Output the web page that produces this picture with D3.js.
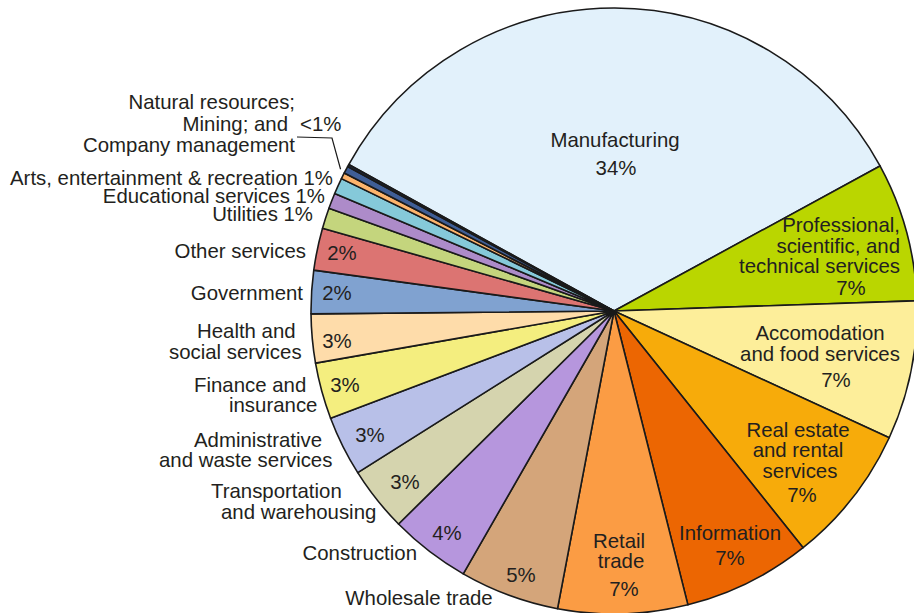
<!DOCTYPE html>
<html>
<head>
<meta charset="utf-8">
<script src="https://cdn.jsdelivr.net/npm/d3@7"></script>
<style>
  html, body { margin: 0; padding: 0; background: #fff; }
  svg { display: block; }
  text { font-family: "Liberation Sans", Arial, Helvetica, sans-serif; font-size: 20.4px; fill: #231f20; }
</style>
</head>
<body>
<svg id="chart" width="914" height="613"></svg>
<script>
// Industry shares (percent), in clockwise order starting with Manufacturing
const categories = [
  "Manufacturing",
  "Professional, scientific, and technical services",
  "Accomodation and food services",
  "Real estate and rental services",
  "Information",
  "Retail trade",
  "Wholesale trade",
  "Construction",
  "Transportation and warehousing",
  "Administrative and waste services",
  "Finance and insurance",
  "Health and social services",
  "Government",
  "Other services",
  "Utilities",
  "Educational services",
  "Arts, entertainment & recreation",
  "Natural resources",
  "Mining",
  "Company management"
];
const shares = [34.0, 7.4, 7.4, 7.4, 6.8, 6.9, 5.3, 4.3, 3.45, 3.2, 3.0, 2.6, 2.3, 2.25, 1.1, 0.83, 0.86, 0.33, 0.38, 0.12];
const colors = [
  "#e2f1fb", "#bad600", "#fdee9a", "#f7ab0a", "#ec6602", "#fb9c44", "#d4a57a",
  "#b696dd", "#d5d4ae", "#b8c0e8", "#f4ee7f", "#fedcaa", "#80a2d0", "#dc7472",
  "#c4d57d", "#ad8bc9", "#85c9d9", "#fdb46c", "#3f5e96", "#1b2a44"
];

// Displayed wording of each label, broken into lines
const nameLines = [
  ["Manufacturing"],
  ["Professional,", "scientific, and", "technical services"],
  ["Accomodation", "and food services"],
  ["Real estate", "and rental", "services"],
  ["Information"],
  ["Retail", "trade"],
  ["Wholesale trade"],
  ["Construction"],
  ["Transportation", "and warehousing"],
  ["Administrative", "and waste services"],
  ["Finance and", "insurance"],
  ["Health and", "social services"],
  ["Government"],
  ["Other services"],
  ["Utilities"],
  ["Educational services"],
  ["Arts, entertainment & recreation"]
];
const smallGroupLines = ["Natural resources;", "Mining; and", "Company management"];

const pctText = v => Math.round(v) + "%";
// the three thinnest slices share one label; each is below one percent
const groupPctText = vals => (d3.max(vals) < 1 ? "<1%" : pctText(d3.sum(vals)));

// Label placement: name lines [x, baseline, anchor, percent appended] and percent [x, baseline]
const nameSpots = [
  [[615, 147, "middle"]],
  [[900, 232, "end"], [900, 253, "end"], [900, 273, "end"]],
  [[820, 340, "middle"], [820, 361, "middle"]],
  [[798, 437, "middle"], [798, 457, "middle"], [800, 478, "middle"]],
  [[730, 540, "middle"]],
  [[619, 548, "middle"], [621, 568, "middle"]],
  [[419, 605, "middle"]],
  [[417, 560, "end"]],
  [[211, 498, "start"], [221, 519, "start"]],
  [[194, 447, "start"], [159, 467, "start"]],
  [[194, 392, "start"], [229, 412, "start"]],
  [[197, 338, "start"], [169, 359, "start"]],
  [[303, 300, "end"]],
  [[306, 258, "end"]],
  [[313, 221, "end", true]],
  [[325, 203, "end", true]],
  [[333, 185, "end", true]]
];
const pctSpots = [
  [616, 175], [851, 295], [836, 387], [802, 502], [730, 565], [624, 596],
  [521, 582], [447, 540], [405, 489], [370, 442], [345, 392], [337, 348],
  [337, 300], [342, 260]
];

const svg = d3.select("#chart");
const cx = 614, cy = 311, radius = 303;
const g = svg.append("g").attr("transform", `translate(${cx},${cy})`);

const start = -61.1 * Math.PI / 180;
const pie = d3.pie().sort(null).value(d => d).startAngle(start).endAngle(start + 2 * Math.PI);
const arcs = pie(shares);
const arc = d3.arc().innerRadius(0).outerRadius(radius);

g.selectAll("path.slice")
  .data(arcs)
  .join("path")
  .attr("class", "slice")
  .attr("d", arc)
  .attr("fill", (d, i) => colors[i])
  .attr("stroke", "#1a1a1a")
  .attr("stroke-width", 1.6)
  .attr("stroke-linejoin", "round");

const labels = svg.append("g");

// Category names
nameLines.forEach((lines, i) => {
  lines.forEach((line, j) => {
    const [x, y, anchor, inline] = nameSpots[i][j];
    labels.append("text")
      .attr("x", x).attr("y", y)
      .attr("text-anchor", anchor)
      .text(inline ? `${line} ${pctText(shares[i])}` : line);
  });
});

// Percent values inside slices
pctSpots.forEach(([x, y], i) => {
  labels.append("text")
    .attr("x", x).attr("y", y)
    .attr("text-anchor", "middle")
    .text(pctText(shares[i]));
});

// Group of the three thinnest slices
const groupIdx = [17, 18, 19];
const groupSpots = [[295, 109], [288, 131], [295, 152]];
smallGroupLines.forEach((line, j) => {
  labels.append("text")
    .attr("x", groupSpots[j][0]).attr("y", groupSpots[j][1])
    .attr("text-anchor", "end")
    .text(line);
});
labels.append("text")
  .attr("x", 300).attr("y", 131)
  .attr("text-anchor", "start")
  .text(groupPctText(groupIdx.map(i => shares[i])));

// Leader from the "<1%" label to the thin slices
const gStart = arcs[17].startAngle, gEnd = arcs[19].endAngle;
const mid = (gStart + gEnd) / 2;
const tipR = radius + 5;
const tip = [cx + tipR * Math.sin(mid), cy - tipR * Math.cos(mid)];
svg.append("polyline")
  .attr("points", [[297, 137], [332, 138], tip].map(p => p.join(",")).join(" "))
  .attr("fill", "none")
  .attr("stroke", "#1a1a1a")
  .attr("stroke-width", 1.2);
</script>
</body>
</html>
